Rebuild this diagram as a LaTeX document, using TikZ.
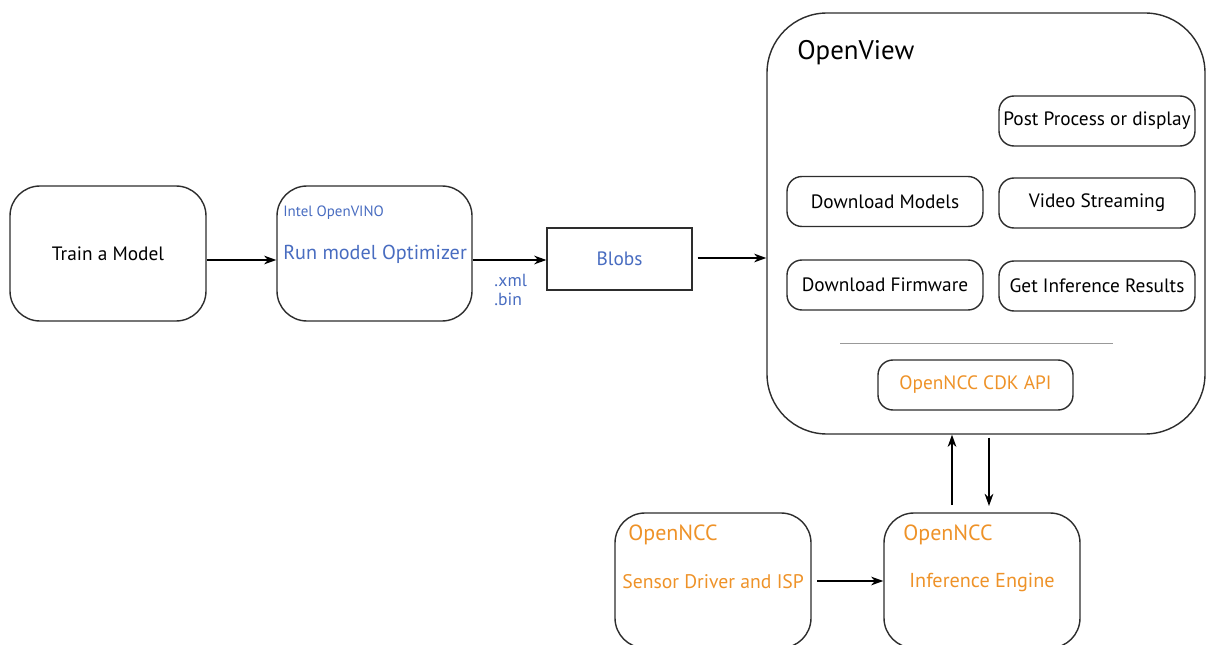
\documentclass[tikz,border=0pt]{standalone}
\usepackage{fontspec}
\setmainfont{PT Sans}
\usetikzlibrary{arrows.meta}
\definecolor{ink}{RGB}{45,45,45}
\definecolor{vino}{RGB}{72,108,192}
\definecolor{ncc}{RGB}{238,146,40}
\begin{document}
\begin{tikzpicture}[x=0.02cm,y=-0.02cm,
  bigbox/.style={draw=ink, line width=0.8pt, rounded corners=0.6cm, inner sep=0pt},
  smallbox/.style={draw=ink, line width=0.8pt, rounded corners=0.3cm, inner sep=0pt,
    minimum width=196*0.02cm, minimum height=50*0.02cm, font=\fontsize{11}{13}\selectfont},
  arr/.style={-{Stealth[length=7pt,width=5pt]}, line width=0.7pt, draw=black},
  lbl/.style={font=\fontsize{11}{13}\selectfont, inner sep=0pt}]
\useasboundingbox (0,0) rectangle (1207,645);
\clip (0,0) rectangle (1207,645);
% left chain
\node[bigbox, minimum width=196*0.02cm, minimum height=135*0.02cm] (train) at (108,253.5) {};
\node[lbl] (traint) at (train) {Train a Model};
\node[bigbox, minimum width=195*0.02cm, minimum height=135*0.02cm] (opt) at (374.5,253.5) {};
\node[lbl, anchor=west, text=vino, font=\fontsize{8.5}{10}\selectfont] (optt1) at (283,213) {Intel OpenVINO};
\node[lbl, anchor=west, text=vino, font=\fontsize{11.5}{13}\selectfont] (optt2) at (283,254.5) {Run model Optimizer};
\node[draw=ink, line width=0.7pt, minimum width=145*0.02cm, minimum height=62*0.02cm, inner sep=0pt] (blobs) at (619.5,259) {};
\node[lbl, text=vino] (blobst) at (blobs) {Blobs};
\node[lbl, anchor=west, text=vino, font=\fontsize{10}{12}\selectfont] (xml) at (494,280) {.xml};
\node[lbl, anchor=west, text=vino, font=\fontsize{10}{12}\selectfont] (bin) at (494,299) {.bin};
% OpenView
\node[draw=ink, line width=0.8pt, rounded corners=1.2cm, inner sep=0pt, minimum width=438*0.02cm, minimum height=421*0.02cm] (ov) at (986,223.5) {};
\node[lbl, anchor=west, font=\fontsize{15.3}{17}\selectfont] (ovt) at (797,53) {OpenView};
\node[smallbox] (post) at (1097,121) {Post Process or display};
\node[smallbox] (dlm) at (885,201.5) {Download Models};
\node[smallbox] (vs) at (1097,203) {Video Streaming};
\node[smallbox] (dlf) at (885,285) {Download Firmware};
\node[smallbox] (gir) at (1097,286) {Get Inference Results};
\coordinate (sepa) at (840,343);
\coordinate (sepb) at (1113,343);
\draw[gray!80, line width=0.5pt] (sepa) -- (sepb);
\node[smallbox, minimum width=195*0.02cm, text=ncc] (cdk) at (975.5,385) {OpenNCC CDK API};
% bottom boxes
\node[bigbox, minimum width=196*0.02cm, minimum height=135*0.02cm] (sensor) at (713,580.5) {};
\node[lbl, anchor=west, text=ncc, font=\fontsize{12.5}{14}\selectfont] (sensort1) at (628,535) {OpenNCC};
\node[lbl, anchor=west, text=ncc, font=\fontsize{11.2}{13}\selectfont] (sensort2) at (622,582) {Sensor Driver and ISP};
\node[bigbox, minimum width=196*0.02cm, minimum height=135*0.02cm] (infer) at (982,580.5) {};
\node[lbl, anchor=west, text=ncc, font=\fontsize{12.5}{14}\selectfont] (infert1) at (903,535) {OpenNCC};
\node[lbl, text=ncc, font=\fontsize{11.5}{13}\selectfont] (infert2) at (982,582) {Inference Engine};
% arrows
\draw[arr] (train.east |- 0,260) -- (opt.west |- 0,260);
\draw[arr] (opt.east |- 0,260) -- (blobs.west |- 0,260);
\draw[arr] ([xshift=5*0.02cm]blobs.east |- 0,258) -- (ov.west |- 0,258);
\coordinate (u0) at (952,505);
\draw[arr] (u0) -- (u0 |- ov.south);
\coordinate (d1) at (989,506);
\draw[arr] ([yshift=-3*0.02cm]d1 |- ov.south) -- (d1);
\draw[arr] (817,581) -- (infer.west |- 0,581);
\end{tikzpicture}
\end{document}
